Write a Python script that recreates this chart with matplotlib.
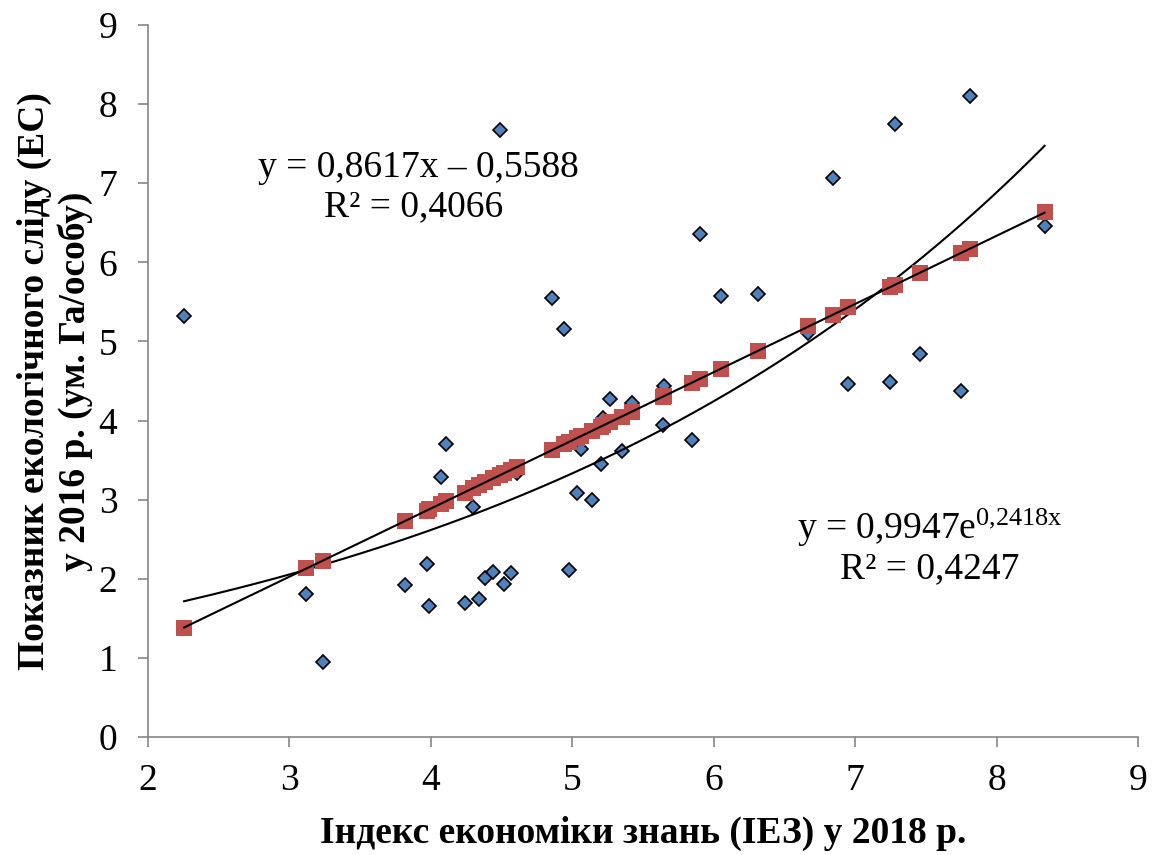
import numpy as np
import matplotlib
matplotlib.use("Agg")
import matplotlib.pyplot as plt

plt.rcParams['font.family'] = ['Liberation Serif', 'DejaVu Serif']
plt.rcParams['mathtext.fontset'] = 'custom'
plt.rcParams['mathtext.rm'] = 'Liberation Serif'
plt.rcParams['mathtext.it'] = 'Liberation Serif:italic'

# Індекс економіки знань (x) та екологічний слід (y)
iez = [2.255, 3.12, 3.24, 3.82, 3.97, 3.99, 4.07, 4.11, 4.24, 4.30, 4.34, 4.38,
       4.44, 4.49, 4.52, 4.57, 4.61, 4.86, 4.94, 4.98, 5.03, 5.06, 5.14, 5.20,
       5.22, 5.27, 5.35, 5.42, 5.64, 5.65, 5.85, 5.90, 6.05, 6.31, 6.67, 6.845,
       6.95, 7.25, 7.28, 7.46, 7.75, 7.81, 8.34]
ec = [5.32, 1.81, 0.95, 1.92, 2.19, 1.66, 3.29, 3.70, 1.69, 2.91, 1.74, 2.01,
      2.09, 7.67, 1.93, 2.07, 3.34, 5.55, 5.16, 2.11, 3.09, 3.64, 3.00, 3.45,
      4.03, 4.27, 3.62, 4.22, 3.94, 4.44, 3.76, 6.36, 5.58, 5.60, 5.11, 7.07,
      4.46, 4.49, 7.75, 4.84, 4.37, 8.10, 6.46]
# прогнозні значення (червоні квадрати)
ec_pred = [1.38, 2.13, 2.23, 2.73, 2.86, 2.88, 2.95, 2.98, 3.09, 3.15, 3.18, 3.22,
           3.27, 3.31, 3.34, 3.38, 3.41, 3.63, 3.70, 3.73, 3.78, 3.80, 3.87, 3.92,
           3.94, 3.98, 4.05, 4.11, 4.30, 4.31, 4.48, 4.52, 4.65, 4.88, 5.19, 5.34,
           5.43, 5.69, 5.71, 5.87, 6.12, 6.17, 6.63]

# коефіцієнти ліній тренду (з підписів на графіку)
lin_a, lin_b = 0.8617, -0.5588
exp_a, exp_b = 0.9947, 0.2418

fig, ax = plt.subplots(figsize=(11.6, 8.55), dpi=100)
fig.subplots_adjust(left=0.1276, right=0.981, bottom=0.138, top=0.9708)

xx = np.linspace(min(iez), max(iez), 200)
ax.plot(xx, exp_a * np.exp(exp_b * xx), color='black', lw=1.5, zorder=3)

ax.plot(iez, ec, 'D', color='#4F81BD', markeredgecolor='black',
        markeredgewidth=1.2, markersize=7.5, zorder=2)
ax.plot(iez, ec_pred, 's', color='#C0504D', markeredgewidth=0,
        markersize=11, zorder=4)
ax.plot([min(iez), max(iez)], [lin_a * min(iez) + lin_b, lin_a * max(iez) + lin_b],
        color='black', lw=1.5, zorder=5)

ax.text(3.915, 7.19, "y = 0,8617x – 0,5588", fontsize=27, ha='center', va='center')
ax.text(3.88, 6.70, "R² = 0,4066", fontsize=27, ha='center', va='center')
ax.text(7.53, 2.64, r"y = 0,9947e$^{\mathregular{0{,}2418x}}$", fontsize=27,
        ha='center', va='center')
ax.text(7.53, 2.12, "R² = 0,4247", fontsize=27, ha='center', va='center')

ax.set_xlim(2, 9)
ax.set_ylim(0, 9)
ax.set_xticks(range(2, 10))
ax.set_yticks(range(0, 10))
ax.tick_params(labelsize=27, color='#868686', length=7, width=1.2)
ax.tick_params(axis='x', pad=12)
ax.tick_params(axis='y', pad=15)
for s in ['top', 'right']:
    ax.spines[s].set_visible(False)
for s in ['left', 'bottom']:
    ax.spines[s].set_color('#868686')
    ax.spines[s].set_linewidth(1.2)

ax.set_xlabel("Індекс економіки знань (ІЕЗ) у 2018 р.", fontsize=27,
              fontweight='bold', labelpad=13)
ax.set_ylabel("Показник екологічного сліду (ЕС)\nу 2016 р. (ум. Га/особу)",
              fontsize=27, fontweight='bold', labelpad=4, linespacing=1.2)

plt.savefig("out.png")
